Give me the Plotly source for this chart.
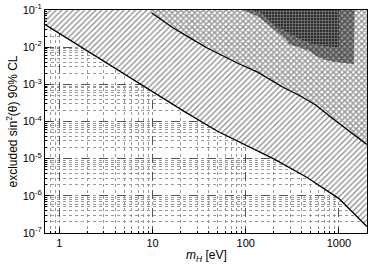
import numpy as np
import plotly.graph_objects as go

# lower exclusion line (boundary of "/" hatched band)
low_x = [0.703, 2.72, 9.86, 22.0, 49.7, 100.0, 202.0, 455.0, 1000.0, 1990.0]
low_y = [0.0407, 4.9e-3, 6.5e-4, 1.85e-4, 5.46e-5, 2.28e-5, 9.7e-6, 3.1e-6, 8.4e-7, 1.49e-7]

# upper line (boundary of crosshatched region)
up_x = [9.72, 16.5, 24.9, 37.6, 56.6, 85.3, 134.0, 164.0, 248.0, 373.0, 563.0, 848.0, 1279.0, 1774.0, 1990.0]
up_y = [0.085, 0.0334, 0.0181, 9.8e-3, 5.9e-3, 3.54e-3, 2.13e-3, 1.55e-3, 8.5e-4, 5.1e-4, 2.79e-4, 1.23e-4, 5.5e-5, 2.96e-5, 2.4e-5]

# checkered band outer contour
chk_x = [92.6, 134.0, 165.0, 210.0, 269.0, 292.0, 373.0, 477.0, 563.0, 663.0, 848.0, 1042.0, 1445.0, 1470.0]
chk_y = [0.1, 0.068, 0.0452, 0.0272, 0.0163, 0.0120, 9.8e-3, 8.0e-3, 5.9e-3, 4.8e-3, 4.1e-3, 3.9e-3, 3.5e-3, 0.1]

# dark core contour
dark_x = [114.0, 146.0, 179.0, 229.0, 280.0, 358.0, 458.0, 587.0, 782.0, 1000.0, 1000.0]
dark_y = [0.1, 0.083, 0.050, 0.0333, 0.0246, 0.0181, 0.0139, 0.0113, 0.0105, 9.8e-3, 0.1]

x_ticks = [1, 10, 100, 1000]
x_ticktext = ["1", "10", "100", "1000"]
y_ticks = [1e-7, 1e-6, 1e-5, 1e-4, 1e-3, 1e-2, 1e-1]
y_ticktext = ["10<sup>-7</sup>", "10<sup>-6</sup>", "10<sup>-5</sup>", "10<sup>-4</sup>",
              "10<sup>-3</sup>", "10<sup>-2</sup>", "10<sup>-1</sup>"]

XMIN, XMAX = 0.7, 2000.0
YMIN, YMAX = 1e-7, 1e-1

fig = go.Figure()

# region 1: "/" hatch
fig.add_trace(go.Scatter(
    x=low_x + [XMAX, XMIN], y=low_y + [YMAX * 1.01, YMAX * 1.01],
    fill="toself", mode="lines", line=dict(width=0),
    fillcolor="white",
    fillpattern=dict(shape="/", size=4, solidity=0.3, fgcolor="#111111", bgcolor="white"),
    hoverinfo="skip", showlegend=False))

# region 2: crosshatch
fig.add_trace(go.Scatter(
    x=up_x + [XMAX, up_x[0]], y=up_y + [YMAX * 1.01, YMAX * 1.01],
    fill="toself", mode="lines", line=dict(width=0),
    fillcolor="white",
    fillpattern=dict(shape="x", size=4, solidity=0.6, fgcolor="#2a2a2a", bgcolor="white"),
    hoverinfo="skip", showlegend=False))

# region 3: checkered band
fig.add_trace(go.Scatter(
    x=chk_x, y=chk_y,
    fill="toself", mode="lines", line=dict(width=0),
    fillcolor="#8c8c8c",
    fillpattern=dict(shape="x", size=4, solidity=0.6, fgcolor="#000000", bgcolor="#989898"),
    hoverinfo="skip", showlegend=False))

# region 4: dark core
fig.add_trace(go.Scatter(
    x=dark_x, y=dark_y,
    fill="toself", mode="lines", line=dict(width=0),
    fillcolor="#333333",
    fillpattern=dict(shape="+", size=3, solidity=0.45, fgcolor="#c0c0c0", bgcolor="#2e2e2e"),
    hoverinfo="skip", showlegend=False))

# boundary lines
fig.add_trace(go.Scatter(x=low_x, y=low_y, mode="lines",
                         line=dict(color="black", width=1.3), hoverinfo="skip", showlegend=False))
fig.add_trace(go.Scatter(x=up_x, y=up_y, mode="lines",
                         line=dict(color="black", width=1.3), hoverinfo="skip", showlegend=False))

axis_common = dict(
    type="log", showline=True, linecolor="black", linewidth=1, mirror=True,
    ticks="inside", ticklen=4, tickcolor="black",
    showgrid=True, gridcolor="#555555", griddash="dash", gridwidth=1,
    zeroline=False, ticklabeloverflow="allow",
    tickfont=dict(family="Liberation Sans, Arial, sans-serif", size=11, color="black"),
    minor=dict(dtick="D1", showgrid=True, gridcolor="#999999", griddash="dot",
               gridwidth=1, ticks="inside", ticklen=2, tickcolor="black"),
)

fig.update_layout(
    width=370, height=265,
    margin=dict(l=45, r=2, t=7, b=32),
    paper_bgcolor="white", plot_bgcolor="white",
    font=dict(family="Liberation Sans, Arial, sans-serif", size=12, color="black"),
    xaxis=dict(axis_common, range=[np.log10(XMIN), np.log10(XMAX)],
               tickvals=x_ticks, ticktext=x_ticktext),
    yaxis=dict(axis_common, range=[np.log10(YMIN) - 0.002, np.log10(YMAX) + 0.002],
               tickvals=y_ticks, ticktext=y_ticktext,
               title=dict(text="excluded sin<sup>2</sup>(θ) 90% CL", standoff=2,
                          font=dict(size=12))),
    annotations=[dict(text="<i>m<sub>H</sub></i> [eV]", xref="paper", yref="paper",
                      x=0.50, y=-0.058, xanchor="center", yanchor="top",
                      showarrow=False, font=dict(size=12))],
)

fig.write_html("out.html", config={"displayModeBar": False},
               post_script="document.body.style.margin='0px';")
